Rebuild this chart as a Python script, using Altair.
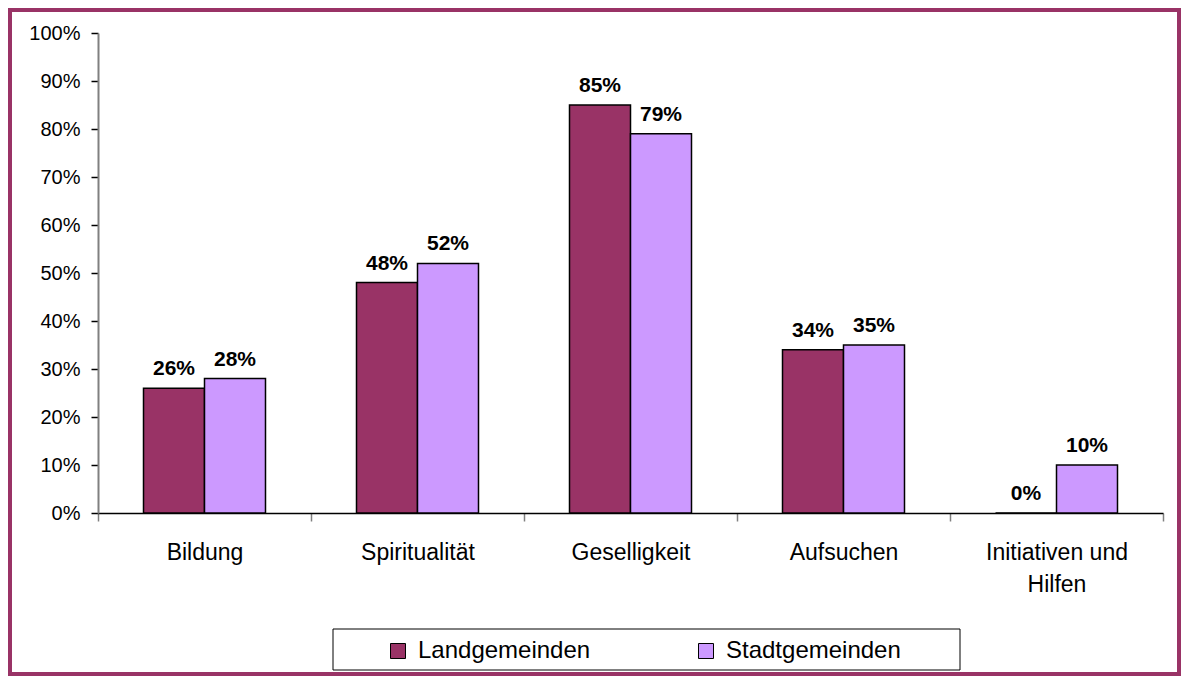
import altair as alt
import pandas as pd

categories = ["Bildung", "Spiritualität", "Geselligkeit", "Aufsuchen", "Initiativen und Hilfen"]
series = ["Landgemeinden", "Stadtgemeinden"]
land = [26, 48, 85, 34, 0]
stadt = [28, 52, 79, 35, 10]
colors = ["#993366", "#CC99FF"]

rows = []
for c, a, b in zip(categories, land, stadt):
    rows.append({"category": c, "series": series[0], "value": a, "label": f"{a}%"})
    rows.append({"category": c, "series": series[1], "value": b, "label": f"{b}%"})
df = pd.DataFrame(rows)

W, H = 1065, 480
FONT = "Liberation Sans"

x_enc = alt.X(
    "category:N",
    sort=categories,
    scale=alt.Scale(paddingInner=0, paddingOuter=0),
    axis=alt.Axis(
        title=None,
        labelAngle=0,
        labelFont=FONT,
        labelFontSize=23,
        labelColor="black",
        labelPadding=20,
        labelLineHeight=32,
        labelBaseline="top",
        labelLimit=400,
        labelExpr="datum.label == 'Initiativen und Hilfen' ? ['Initiativen und', 'Hilfen'] : datum.label",
        tickBand="extent",
        tickSize=8,
        tickColor="#808080",
        tickWidth=1.5,
        domainColor="black",
        domainWidth=1.5,
    ),
)
xoff = alt.XOffset("series:N", sort=series, scale=alt.Scale(paddingInner=0, paddingOuter=0.746))
y_enc = alt.Y(
    "value:Q",
    scale=alt.Scale(domain=[0, 100], nice=False),
    axis=alt.Axis(
        title=None,
        values=list(range(0, 101, 10)),
        labelExpr="datum.value + '%'",
        labelFont=FONT,
        labelFontSize=20,
        labelColor="black",
        labelPadding=11,
        tickSize=7,
        tickColor="black",
        tickWidth=1.5,
        domainColor="#808080",
        domainWidth=2,
        grid=False,
    ),
)

base = alt.Chart(df)
bars = base.mark_bar(stroke="black", strokeWidth=1.5).encode(
    x=x_enc,
    xOffset=xoff,
    y=y_enc,
    color=alt.Color(
        "series:N",
        sort=series,
        scale=alt.Scale(domain=series, range=colors),
        legend=alt.Legend(
            title=None,
            orient="none",
            direction="horizontal",
            legendX=288,
            legendY=606,
            symbolType="square",
            symbolSize=225,
            symbolStrokeColor="black",
            symbolStrokeWidth=1,
            labelFont=FONT,
            labelFontSize=24,
            labelColor="black",
            labelOffset=8,
            labelLimit=400,
            columnPadding=103,
            padding=0,
        ),
    ),
)
texts = base.mark_text(
    font=FONT, fontSize=21, fontWeight="bold", baseline="alphabetic", dy=-13, color="black"
).encode(x=x_enc, xOffset=xoff, y=y_enc, text="label:N")

one = pd.DataFrame({"k": [0]})
legend_box = alt.Chart(one).mark_rect(fill=None, stroke="black", strokeWidth=1).encode(
    x=alt.value(235), x2=alt.value(862), y=alt.value(596), y2=alt.value(637)
)
frame = alt.Chart(one).mark_rect(fill=None, stroke="#993366", strokeWidth=4).encode(
    x=alt.value(-88), x2=alt.value(1081), y=alt.value(-23), y2=alt.value(641)
)

chart = alt.layer(bars, texts, legend_box, frame).properties(
    width=W,
    height=H,
    padding={"left": 90, "top": 25, "right": 19, "bottom": 163},
    autosize=alt.AutoSizeParams(type="none"),
    background="white",
).configure_view(stroke=None)

chart.save("out.html", embed_options={"renderer": "svg", "actions": False})
